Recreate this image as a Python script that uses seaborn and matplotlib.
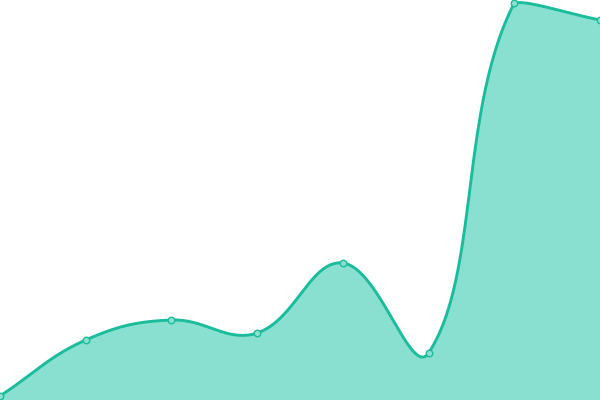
import numpy as np
import pandas as pd
import seaborn as sns
import matplotlib.pyplot as plt

# data (y axis 0..100)
labels = ["p1", "p2", "p3", "p4", "p5", "p6", "p7", "p8"]
values = [1, 15, 20, 16.75, 34.25, 11.75, 99.25, 95]

line_color = "#1abc9c"
fill_color = "#8ae0d0"
W, H = 600, 400
y_max = 100


def spline_path(xs, ys, tension=0.4, steps=60):
    # bezier smoothing like a canvas chart, done in pixel space
    px = np.array(xs, dtype=float) * W / (len(xs) - 1)
    py = np.array(ys, dtype=float) * H / y_max
    n = len(px)
    cp_prev = [None] * n
    cp_next = [None] * n
    for i in range(n):
        p0 = np.array([px[max(i - 1, 0)], py[max(i - 1, 0)]])
        p1 = np.array([px[i], py[i]])
        p2 = np.array([px[min(i + 1, n - 1)], py[min(i + 1, n - 1)]])
        d01 = np.hypot(*(p1 - p0))
        d12 = np.hypot(*(p2 - p1))
        s01 = d01 / (d01 + d12) if d01 + d12 else 0
        s12 = d12 / (d01 + d12) if d01 + d12 else 0
        fa = tension * s01
        fb = tension * s12
        a = p1 - fa * (p2 - p0)
        b = p1 + fb * (p2 - p0)
        a = np.clip(a, [0, 0], [W, H])
        b = np.clip(b, [0, 0], [W, H])
        cp_prev[i] = a
        cp_next[i] = b
    out_x, out_y = [], []
    t = np.linspace(0, 1, steps)[:, None]
    for i in range(n - 1):
        P0 = np.array([px[i], py[i]])
        P3 = np.array([px[i + 1], py[i + 1]])
        C1 = cp_next[i]
        C2 = cp_prev[i + 1]
        seg = ((1 - t) ** 3) * P0 + 3 * ((1 - t) ** 2) * t * C1 + 3 * (1 - t) * t ** 2 * C2 + t ** 3 * P3
        out_x.extend(seg[:, 0])
        out_y.extend(seg[:, 1])
    return np.array(out_x) * (len(xs) - 1) / W, np.array(out_y) * y_max / H


df = pd.DataFrame({"label": labels, "x": range(len(labels)), "value": values})
sx, sy = spline_path(df["x"], df["value"])

fig = plt.figure(figsize=(6, 4), dpi=100)
ax = fig.add_axes([0, 0, 1, 1])
ax.fill_between(sx, sy, 0, color=fill_color, linewidth=0)
ax.plot(sx, sy, color=line_color, linewidth=2.1, solid_capstyle="round")
sns.scatterplot(data=df, x="x", y="value", ax=ax, s=22, color=fill_color,
                edgecolor=line_color, linewidth=1, zorder=5, clip_on=False)
ax.set_xlim(0, len(labels) - 1)
ax.set_ylim(0, y_max)
ax.axis("off")
fig.savefig("out.png", dpi=100)
plt.close(fig)
